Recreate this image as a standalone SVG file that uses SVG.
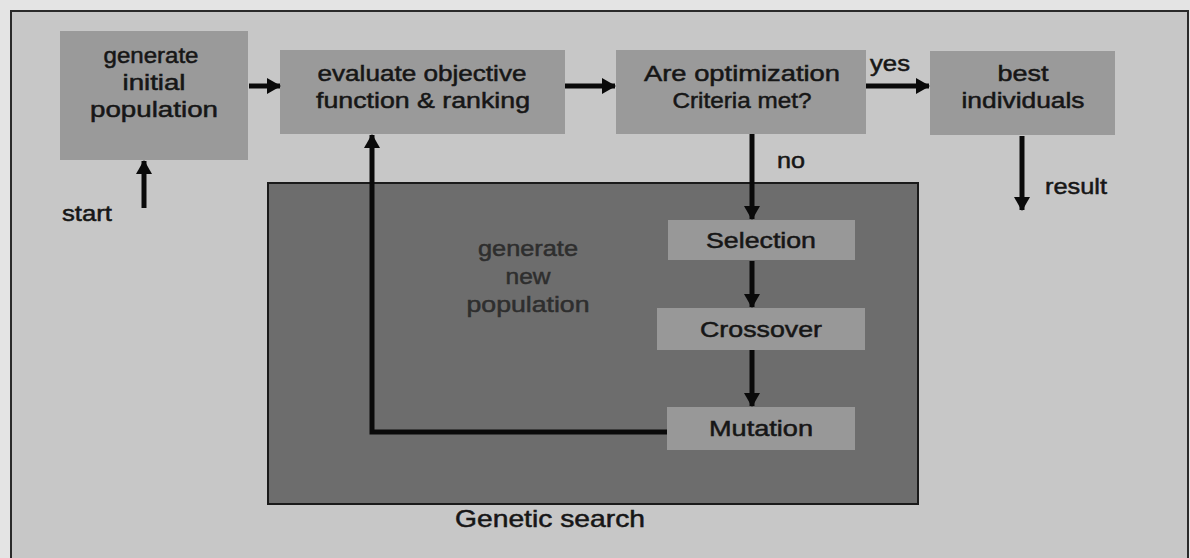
<svg xmlns="http://www.w3.org/2000/svg" width="1190" height="558" viewBox="0 0 1190 558">
<style>
.box{fill:#9a9a9a}
.inner{fill:#989898}
.t{font-family:"Liberation Sans",Arial,sans-serif;font-size:22px;fill:#161616;stroke:#161616;stroke-width:0.5;text-anchor:middle}
.d{fill:#2e2e2e;stroke:#2e2e2e}
.conn{stroke:#0a0a0a;stroke-width:5;fill:none}
</style>
<defs>
<marker id="ah" markerUnits="userSpaceOnUse" markerWidth="14" markerHeight="16" refX="13" refY="8" orient="auto">
<path d="M0,0 L14,8 L0,16 z" fill="#0a0a0a"/>
</marker>
</defs>
<rect x="0" y="0" width="1190" height="558" fill="#e4e4e4"/>
<rect x="11" y="11" width="1177" height="560" fill="#c7c7c7" stroke="#2a2a2a" stroke-width="2"/>

<g id="genetic-search">
<rect x="268" y="183" width="650" height="321" fill="#6d6d6d" stroke="#1a1a1a" stroke-width="2"/>
<text class="t d" x="528" y="256" textLength="100" lengthAdjust="spacingAndGlyphs">generate</text>
<text class="t d" x="528" y="284" textLength="45" lengthAdjust="spacingAndGlyphs">new</text>
<text class="t d" x="528" y="312" textLength="123" lengthAdjust="spacingAndGlyphs">population</text>
<text class="t" x="550" y="527" style="font-size:24px" textLength="190" lengthAdjust="spacingAndGlyphs">Genetic search</text>
</g>

<g id="generate-initial">
<rect class="box" x="60" y="31" width="188" height="129"/>
<text class="t" x="151" y="63" textLength="95" lengthAdjust="spacingAndGlyphs">generate</text>
<text class="t" x="154" y="90" textLength="63" lengthAdjust="spacingAndGlyphs">initial</text>
<text class="t" x="154" y="117" textLength="128" lengthAdjust="spacingAndGlyphs">population</text>
</g>

<g id="evaluate">
<rect class="box" x="280" y="50" width="285" height="84"/>
<text class="t" x="422" y="81" textLength="209" lengthAdjust="spacingAndGlyphs">evaluate objective</text>
<text class="t" x="423" y="108" textLength="214" lengthAdjust="spacingAndGlyphs">function &amp; ranking</text>
</g>

<g id="criteria">
<rect class="box" x="616" y="50" width="250" height="84"/>
<text class="t" x="742" y="81" textLength="196" lengthAdjust="spacingAndGlyphs">Are optimization</text>
<text class="t" x="742" y="108" textLength="139" lengthAdjust="spacingAndGlyphs">Criteria met?</text>
</g>

<g id="best">
<rect class="box" x="930" y="51" width="185" height="84"/>
<text class="t" x="1023" y="81" textLength="51" lengthAdjust="spacingAndGlyphs">best</text>
<text class="t" x="1023" y="108" textLength="123" lengthAdjust="spacingAndGlyphs">individuals</text>
</g>

<g id="selection">
<rect class="inner" x="668" y="220" width="187" height="40"/>
<text class="t" x="761" y="248" textLength="110" lengthAdjust="spacingAndGlyphs">Selection</text>
</g>

<g id="crossover">
<rect class="inner" x="657" y="308" width="208" height="42"/>
<text class="t" x="761" y="337" textLength="122" lengthAdjust="spacingAndGlyphs">Crossover</text>
</g>

<g id="mutation">
<rect class="inner" x="667" y="407" width="188" height="43"/>
<text class="t" x="761" y="436" textLength="104" lengthAdjust="spacingAndGlyphs">Mutation</text>
</g>

<g id="labels">
<text class="t" x="890" y="71" textLength="40" lengthAdjust="spacingAndGlyphs">yes</text>
<text class="t" x="791" y="168" textLength="28" lengthAdjust="spacingAndGlyphs">no</text>
<text class="t" x="1076" y="194" textLength="62" lengthAdjust="spacingAndGlyphs">result</text>
<text class="t" x="87" y="221" textLength="50" lengthAdjust="spacingAndGlyphs">start</text>
</g>

<g id="connectors">
<line class="conn" x1="249" y1="86" x2="280" y2="86" marker-end="url(#ah)"/>
<line class="conn" x1="565" y1="86" x2="615" y2="86" marker-end="url(#ah)"/>
<line class="conn" x1="866" y1="86" x2="929" y2="86" marker-end="url(#ah)"/>
<line class="conn" x1="752" y1="134" x2="752" y2="219" marker-end="url(#ah)"/>
<line class="conn" x1="752" y1="261" x2="752" y2="307" marker-end="url(#ah)"/>
<line class="conn" x1="752" y1="350" x2="752" y2="406" marker-end="url(#ah)"/>
<line class="conn" x1="1022" y1="136" x2="1022" y2="210" marker-end="url(#ah)"/>
<line class="conn" x1="144" y1="208" x2="144" y2="161" marker-end="url(#ah)"/>
<polyline class="conn" points="667,432 372,432 372,135" marker-end="url(#ah)"/>
</g>
</svg>
